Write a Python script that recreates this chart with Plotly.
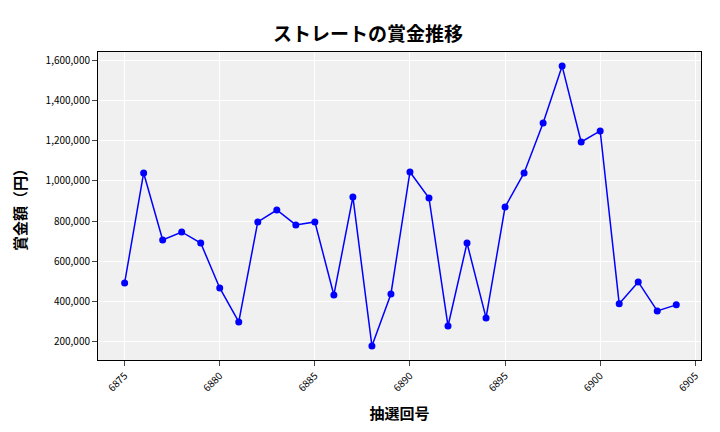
import plotly.graph_objects as go

draws = list(range(6875, 6905))
prizes = [493000, 1039000, 706000, 746000, 691000, 468000, 299000, 796000, 855000, 781000,
          796000, 433000, 920000, 180000, 438000, 1044000, 915000, 279000, 691000, 319000,
          870000, 1039000, 1287000, 1570000, 1193000, 1248000, 389000, 498000, 354000, 384000]
xticks = [6875, 6880, 6885, 6890, 6895, 6900, 6905]

fig = go.Figure(go.Scatter(x=draws, y=prizes, mode="lines+markers",
                           line=dict(color="#0000ff", width=1.5),
                           marker=dict(color="#0000ff", size=7)))
font = "Noto Sans CJK JP"
fig.update_layout(
    width=720, height=432, margin=dict(l=87, r=27, t=44, b=80),
    paper_bgcolor="white", plot_bgcolor="#f0f0f0", showlegend=False,
    font=dict(family=font, color="black"),
    title=dict(text="<b>ストレートの賞金推移</b>", x=0.5, xanchor="center", y=0.955, font=dict(size=19)),
)
fig.update_xaxes(range=[6873.6, 6905.3], tickvals=xticks, tickangle=-45, tickfont=dict(size=10),
                 gridcolor="white", showline=True, linecolor="black", mirror=True, ticks="outside",
                 title=dict(text="<b>抽選回号</b>", font=dict(size=15)))
fig.update_yaxes(range=[110000, 1640000], tickformat=",d", dtick=200000, tickfont=dict(size=10),
                 gridcolor="white", showline=True, linecolor="black", mirror=True, ticks="outside",
                 title=dict(text="<b>賞金額（円）</b>", font=dict(size=15)))
fig.write_html("out.html")
